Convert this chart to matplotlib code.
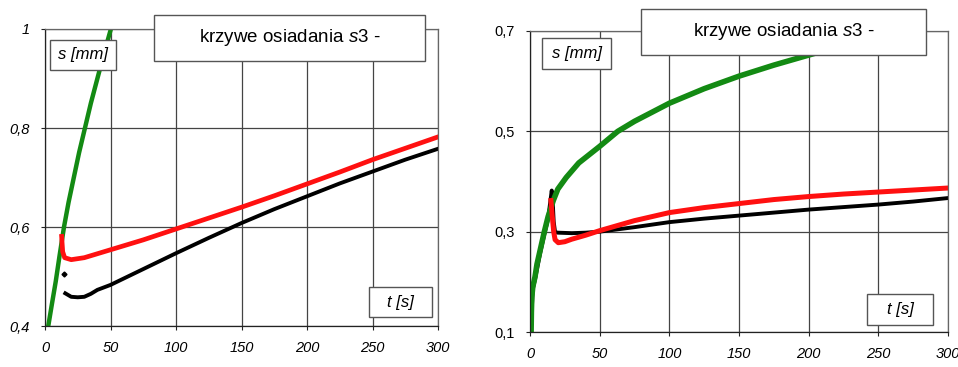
import numpy as np
import matplotlib
matplotlib.use("Agg")
import matplotlib.pyplot as plt
from matplotlib.patches import Rectangle

plt.rcParams['font.family'] = ['Liberation Sans', 'DejaVu Sans']
plt.rcParams['mathtext.fontset'] = 'custom'
plt.rcParams['mathtext.rm'] = 'Liberation Sans'
plt.rcParams['mathtext.it'] = 'Liberation Sans:italic'

W, H = 958, 367

# left panel (s3, first test)
l_green_t = [2.5, 5, 8.2, 11, 14.5, 18, 22, 26, 30.5, 35, 40, 45, 50.3]
l_green_s = [0.40, 0.44, 0.49, 0.54, 0.60, 0.65, 0.70, 0.75, 0.80, 0.85, 0.90, 0.95, 1.00]
l_red_t = [12.7, 13.5, 15, 20, 30, 40, 50, 75, 100, 125, 150, 175, 200, 225, 250, 275, 300]
l_red_s = [0.581, 0.55, 0.538, 0.534, 0.538, 0.546, 0.554, 0.574, 0.596, 0.618, 0.64, 0.663, 0.687, 0.711, 0.736, 0.759, 0.782]
l_blk_dot = (14.8, 0.505)
l_blk_t = [15.5, 20, 25, 30, 35, 40, 50, 75, 100, 125, 150, 175, 200, 225, 250, 275, 300]
l_blk_s = [0.466, 0.459, 0.458, 0.459, 0.465, 0.473, 0.483, 0.515, 0.547, 0.578, 0.608, 0.636, 0.662, 0.688, 0.712, 0.736, 0.758]

# right panel (s3, second test)
r_green_t = [0.8, 1.0, 1.3, 2, 3.6, 5, 7.2, 10.3, 13, 16.7, 20, 26, 35, 50, 63, 75, 100, 125, 150, 175, 200, 210]
r_green_s = [0.10, 0.14, 0.17, 0.19, 0.21, 0.235, 0.262, 0.30, 0.33, 0.362, 0.385, 0.408, 0.437, 0.47, 0.50, 0.52, 0.556, 0.585, 0.61, 0.632, 0.652, 0.66]
r_red_t = [15, 16, 17, 18, 20.3, 25, 30, 40, 50, 75, 100, 125, 150, 175, 200, 225, 250, 275, 300]
r_red_s = [0.362, 0.33, 0.30, 0.284, 0.278, 0.28, 0.285, 0.293, 0.302, 0.322, 0.338, 0.348, 0.356, 0.364, 0.37, 0.375, 0.379, 0.383, 0.387]
r_blk_t = [1.0, 2, 3.6, 7.2, 10.3, 13, 15.6, 16.3, 17, 18, 20, 30, 40, 50, 75, 100, 125, 150, 175, 200, 225, 250, 275, 300]
r_blk_s = [0.13, 0.185, 0.205, 0.256, 0.295, 0.326, 0.382, 0.36, 0.32, 0.299, 0.298, 0.297, 0.298, 0.30, 0.309, 0.319, 0.326, 0.332, 0.338, 0.344, 0.349, 0.354, 0.36, 0.367]

x_ticks = [0, 50, 100, 150, 200, 250, 300]
l_yticks = [0.4, 0.6, 0.8, 1.0]
l_ylabels = ['0,4', '0,6', '0,8', '1']
r_yticks = [0.1, 0.3, 0.5, 0.7]
r_ylabels = ['0,1', '0,3', '0,5', '0,7']

title = 'krzywe osiadania $\\mathit{s3}$ -'

fig = plt.figure(figsize=(W / 100, H / 100), dpi=100)


def px_axes(x0, y0, x1, y1):
    return fig.add_axes([x0 / W, 1 - y1 / H, (x1 - x0) / W, (y1 - y0) / H])


def px_box(x0, y0, x1, y1, text, size, style='normal'):
    r = Rectangle((x0 / W, 1 - y1 / H), (x1 - x0) / W, (y1 - y0) / H,
                  transform=fig.transFigure, facecolor='white',
                  edgecolor='#555555', lw=1.0, zorder=10)
    fig.add_artist(r)
    fig.text((x0 + x1) / 2 / W, 1 - (y0 + y1) / 2 / H, text, fontsize=size,
             fontstyle=style, ha='center', va='center', zorder=11)


def style(ax, yticks, ylabels, ylim, yitalic):
    ax.set_xlim(0, 300)
    ax.set_ylim(*ylim)
    ax.set_xticks(x_ticks)
    ax.set_xticklabels([str(v) for v in x_ticks], fontstyle='italic', fontsize=10.5)
    ax.set_yticks(yticks)
    ax.set_yticklabels(ylabels, fontstyle='italic' if yitalic else 'normal', fontsize=10.5)
    ax.grid(True, color='#444444', lw=0.9)
    ax.set_axisbelow(True)
    for sp in ax.spines.values():
        sp.set_color('#666666')
        sp.set_linewidth(0.9)
    ax.spines['left'].set_color('#222222')
    ax.spines['bottom'].set_color('#222222')
    ax.tick_params(length=3, color='#222222', pad=8)


ax1 = px_axes(45, 29, 438, 326)
ax1.plot(l_green_t, l_green_s, color='#138a13', lw=3.2)
ax1.plot(l_blk_t, l_blk_s, color='black', lw=2.8)
ax1.plot(*l_blk_dot, 'D', color='black', ms=2.5)
ax1.plot(l_red_t, l_red_s, color='#ff1010', lw=3.4)
style(ax1, l_yticks, l_ylabels, (0.4, 1.0), True)

ax2 = px_axes(530, 31, 948, 332)
ax2.plot(r_blk_t, r_blk_s, color='black', lw=2.8)
ax2.plot(r_green_t, r_green_s, color='#138a13', lw=4.0)
ax2.plot(r_red_t, r_red_s, color='#ff1010', lw=3.6)
style(ax2, r_yticks, r_ylabels, (0.1, 0.7), False)

px_box(154, 15, 425, 61, title, 13.5)
px_box(50, 40, 116, 70, 's [mm]', 12, 'italic')
px_box(369, 287, 432, 317, 't [s]', 12, 'italic')
px_box(641, 9, 926, 55, title, 13.5)
px_box(542, 38, 611, 69, 's [mm]', 12, 'italic')
px_box(867, 294, 933, 325, 't [s]', 12, 'italic')

fig.savefig('out.png', dpi=100)
